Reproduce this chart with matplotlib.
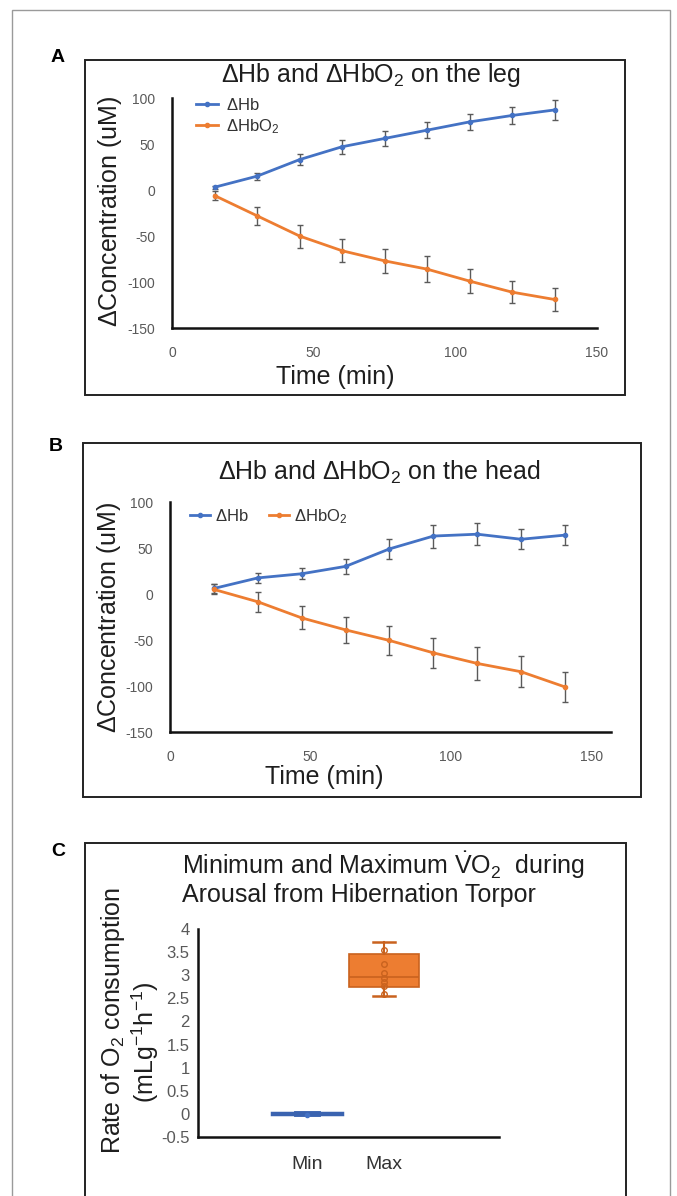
import matplotlib
matplotlib.use("Agg")
import matplotlib.pyplot as plt
from matplotlib import font_manager
from matplotlib.patches import Rectangle

# --- fonts: the reference text is narrow (Arial Narrow look) ---
names = {f.name for f in font_manager.fontManager.ttflist}
FONT = 'Liberation Sans Narrow' if 'Liberation Sans Narrow' in names else 'Liberation Sans'
plt.rcParams['font.family'] = [FONT, 'DejaVu Sans']
plt.rcParams['mathtext.fontset'] = 'custom'
plt.rcParams['mathtext.rm'] = FONT
plt.rcParams['mathtext.it'] = FONT
plt.rcParams['mathtext.bf'] = FONT
plt.rcParams['axes.unicode_minus'] = False

# --- data ---
time_leg = [15, 30, 45, 60, 75, 90, 105, 120, 135]
hb_leg = [3, 15, 33, 47, 56, 65, 74, 81, 87]
hb_leg_err = [1.5, 4, 6, 7.5, 8, 9, 9, 9, 11]
hbo2_leg = [-6, -28, -50, -66, -77, -86, -99, -111, -119]
hbo2_leg_err = [4.5, 10, 12.5, 12.5, 13, 14, 13, 12, 12]

time_head = [15.6, 31.3, 46.9, 62.5, 78.1, 93.8, 109.4, 125.0, 140.6]
hb_head = [6, 17.5, 22, 30, 49, 63, 65, 59.5, 64]
hb_head_err = [4.5, 5.5, 6, 8.5, 10.5, 12.5, 12, 11, 11]
hbo2_head = [5, -8.5, -26, -39, -50.5, -64, -75.5, -84.5, -101]
hbo2_head_err = [5.5, 11, 12.5, 14.5, 15.5, 16, 17.5, 17, 16]

conc_ticks = [-150, -100, -50, 0, 50, 100]
time_ticks = [0, 50, 100, 150]

vo2_groups = ['Min', 'Max']
vo2_whislo = [-0.01, 2.55]
vo2_q1 = [0.0, 2.75]
vo2_med = [0.0, 2.97]
vo2_q3 = [0.01, 3.46]
vo2_whishi = [0.01, 3.71]
vo2_min_points = [-0.03]
vo2_max_points = [3.54, 3.25, 3.05, 2.94, 2.85, 2.76, 2.60]
vo2_ticks = [-0.5, 0, 0.5, 1, 1.5, 2, 2.5, 3, 3.5, 4]

BLUE = '#4472C4'
ORANGE = '#ED7D31'
DARK_OR = '#C9621E'
ERR = '#5a5a5a'
TICK = '#595959'
TXT = '#1e1e1e'

W, H = 677, 1196


def axrect(l, t, r, b):
    return [l / W, 1 - b / H, (r - l) / W, (b - t) / H]


def fx(x):
    return x / W


def fy(y):
    return 1 - y / H


fig = plt.figure(figsize=(W / 100, H / 100), dpi=100)

# outer frame and panel frames
fig.patches.append(Rectangle((fx(12), fy(1220)), fx(670) - fx(12), fy(10) - fy(1220),
                             transform=fig.transFigure, fill=False, ec='#9a9a9a', lw=1))
for l, t, r, b in [(85, 60, 625, 395), (83, 443, 641, 797), (85, 843, 626, 1220)]:
    fig.patches.append(Rectangle((fx(l), fy(b)), fx(r) - fx(l), fy(t) - fy(b),
                                 transform=fig.transFigure, fill=False, ec='#222222', lw=1.4))

for letter, x, y in [('A', 58, 57), ('B', 56, 447), ('C', 58, 851)]:
    fig.text(fx(x), fy(y), letter, fontsize=14, fontweight='bold', ha='center', va='center',
             family=['Liberation Sans', 'DejaVu Sans'])


def style_line_axes(ax):
    ax.spines['top'].set_visible(False)
    ax.spines['right'].set_visible(False)
    for s in ('left', 'bottom'):
        ax.spines[s].set_linewidth(1.8)
        ax.spines[s].set_color('#111111')
    ax.tick_params(length=0, labelsize=10, labelcolor=TICK)
    ax.tick_params(axis='y', pad=12)
    ax.tick_params(axis='x', pad=13)


def draw_series(ax, t, hb, hb_err, hbo2, hbo2_err):
    for y, e, c in [(hb, hb_err, BLUE), (hbo2, hbo2_err, ORANGE)]:
        ax.errorbar(t, y, yerr=e, fmt='none', ecolor=ERR, elinewidth=1, capsize=2, capthick=1, zorder=2)
    h1, = ax.plot(t, hb, color=BLUE, lw=2, marker='o', ms=3, zorder=3)
    h2, = ax.plot(t, hbo2, color=ORANGE, lw=2, marker='o', ms=3, zorder=3)
    return h1, h2


# ---------------- Panel A ----------------
axA = fig.add_axes(axrect(172, 98, 597, 328))
hA = draw_series(axA, time_leg, hb_leg, hb_leg_err, hbo2_leg, hbo2_leg_err)
axA.set_xlim(0, 150)
axA.set_ylim(-150, 100)
axA.set_xticks(time_ticks)
axA.set_yticks(conc_ticks)
style_line_axes(axA)
fig.text(fx(371), fy(75), r'$\Delta$Hb and $\Delta$HbO$_2$ on the leg', fontsize=18, ha='center',
         va='center', color=TXT)
fig.text(fx(110), fy(211), r'$\Delta$Concentration (uM)', fontsize=18, rotation=90, ha='center',
         va='center', color=TXT)
fig.text(fx(335), fy(377), 'Time (min)', fontsize=18, ha='center', va='center', color=TXT)
axA.legend(hA, [r'$\Delta$Hb', r'$\Delta$HbO$_2$'], loc='upper left', frameon=False,
           bbox_to_anchor=(fx(196), fy(97)), bbox_transform=fig.transFigure, borderaxespad=0,
           borderpad=0, handlelength=1.3, handletextpad=0.5, labelspacing=0.25, fontsize=12,
           labelcolor='#333333')

# ---------------- Panel B ----------------
axB = fig.add_axes(axrect(170, 502, 611, 732))
hB = draw_series(axB, time_head, hb_head, hb_head_err, hbo2_head, hbo2_head_err)
axB.set_xlim(0, 157)
axB.set_ylim(-150, 100)
axB.set_xticks(time_ticks)
axB.set_yticks(conc_ticks)
style_line_axes(axB)
fig.text(fx(379), fy(472), r'$\Delta$Hb and $\Delta$HbO$_2$ on the head', fontsize=18, ha='center',
         va='center', color=TXT)
fig.text(fx(109), fy(617), r'$\Delta$Concentration (uM)', fontsize=18, rotation=90, ha='center',
         va='center', color=TXT)
fig.text(fx(324), fy(777), 'Time (min)', fontsize=18, ha='center', va='center', color=TXT)
axB.legend(hB, [r'$\Delta$Hb', r'$\Delta$HbO$_2$'], loc='upper left', frameon=False, ncol=2,
           bbox_to_anchor=(fx(190), fy(507)), bbox_transform=fig.transFigure, borderaxespad=0,
           borderpad=0, handlelength=1.2, handletextpad=0.3, columnspacing=1.2, fontsize=12,
           labelcolor='#333333')

# ---------------- Panel C ----------------
axC = fig.add_axes(axrect(198, 929, 499, 1137))
pos = [1, 2]
stats = []
for i, g in enumerate(vo2_groups):
    stats.append(dict(label=g, whislo=vo2_whislo[i], q1=vo2_q1[i], med=vo2_med[i],
                      q3=vo2_q3[i], whishi=vo2_whishi[i], fliers=[]))
colors = [BLUE, ORANGE]
edges = ['#3a63b0', DARK_OR]
for i in range(2):
    axC.bxp([stats[i]], positions=[pos[i]], widths=0.91, capwidths=0.29, patch_artist=True,
            showfliers=False,
            boxprops=dict(facecolor=colors[i], edgecolor=edges[i], linewidth=1.2 if i else 2.5),
            medianprops=dict(color=edges[i], linewidth=1.2),
            whiskerprops=dict(color=edges[i], linewidth=1.5),
            capprops=dict(color=edges[i], linewidth=1.8 if i else 3.5))
axC.plot([pos[0]] * len(vo2_min_points), vo2_min_points, 'o', ms=3, color=BLUE, zorder=4)
axC.plot([pos[1]] * len(vo2_max_points), vo2_max_points, 'o', ms=4, mfc='none', mec=DARK_OR,
         mew=1, zorder=4)
axC.set_xlim(-0.42, 3.49)
axC.set_ylim(-0.5, 4)
axC.set_yticks(vo2_ticks)
axC.set_yticklabels([f'{v:g}' for v in vo2_ticks])
axC.set_xticks(pos)
axC.set_xticklabels(vo2_groups)
axC.spines['top'].set_visible(False)
axC.spines['right'].set_visible(False)
for s in ('left', 'bottom'):
    axC.spines[s].set_linewidth(1.8)
    axC.spines[s].set_color('#111111')
axC.tick_params(length=0)
axC.tick_params(axis='y', labelsize=12, labelcolor=TICK, pad=6)
axC.tick_params(axis='x', labelsize=14, labelcolor='#333333', pad=14)

fig.text(fx(182), fy(865), r'Minimum and Maximum $\dot{\mathrm{V}}\mathrm{O}_2$  during', fontsize=18,
         ha='left', va='center', color=TXT)
fig.text(fx(182), fy(895), 'Arousal from Hibernation Torpor', fontsize=18, ha='left', va='center',
         color=TXT)
fig.text(fx(113), fy(1021), r'Rate of O$_2$ consumption', fontsize=18, rotation=90, ha='center',
         va='center', color=TXT)
fig.text(fx(145), fy(1042), r'(mLg$^{-1}$h$^{-1}$)', fontsize=18, rotation=90, ha='center',
         va='center', color=TXT)

fig.savefig('out.png', dpi=100)
